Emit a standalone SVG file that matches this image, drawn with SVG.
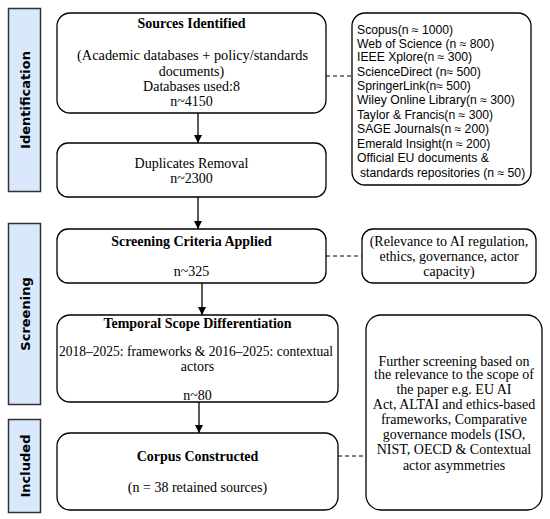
<svg xmlns="http://www.w3.org/2000/svg" width="550" height="519" viewBox="0 0 550 519">
<defs>
<marker id="ah" viewBox="0 0 10 10" refX="10" refY="5" markerWidth="8" markerHeight="8" markerUnits="userSpaceOnUse" orient="auto">
<path d="M0,0 L10,5 L0,10 z" fill="#000"/>
</marker>
</defs>
<style>
.bar{fill:#dae8fc;stroke:#333;stroke-width:1.5}
.box{fill:#fff;stroke:#000;stroke-width:1.3}
.vl{font-family:"DejaVu Sans",sans-serif;font-weight:bold;font-size:13px;fill:#000}
.t{font-family:"Liberation Serif",serif;font-size:14px;fill:#000;text-anchor:middle}
.b{font-weight:bold}
.s{font-family:"Liberation Sans",Arial,sans-serif;font-size:12.2px;fill:#000}
.ar{stroke:#000;stroke-width:1.3;fill:none;marker-end:url(#ah)}
.da{stroke:#000;stroke-width:1;fill:none;stroke-dasharray:4,3}
</style>
<rect width="550" height="519" fill="#fff"/>
<g id="phase-identification">
<rect class="bar" x="8.5" y="8.5" width="32" height="183"/>
<text class="vl" transform="translate(29.5,100) rotate(-90)" text-anchor="middle">Identification</text>
</g>
<g id="phase-screening">
<rect class="bar" x="8.5" y="223.5" width="32" height="181"/>
<text class="vl" transform="translate(29.5,314) rotate(-90)" text-anchor="middle">Screening</text>
</g>
<g id="phase-included">
<rect class="bar" x="8.5" y="419.5" width="32" height="93"/>
<text class="vl" transform="translate(29.5,466) rotate(-90)" text-anchor="middle">Included</text>
</g>
<g id="connectors">
<line class="ar" x1="198" y1="113" x2="198" y2="143"/>
<line class="ar" x1="198" y1="197" x2="198" y2="229"/>
<line class="ar" x1="202" y1="283" x2="202" y2="315"/>
<line class="ar" x1="199" y1="402" x2="199" y2="433"/>
<line class="da" x1="326" y1="76" x2="352" y2="76"/>
<line class="da" x1="326" y1="256" x2="362" y2="256"/>
<line class="da" x1="338" y1="456" x2="366" y2="456"/>
</g>
<g id="sources">
<rect class="box" x="57" y="13" width="269" height="100" rx="13"/>
<text class="t b" x="191.5" y="28">Sources Identified</text>
<text class="t" x="192.5" y="60" textLength="231" lengthAdjust="spacingAndGlyphs">(Academic databases + policy/standards</text>
<text class="t" x="191.5" y="76">documents)</text>
<text class="t" x="191.5" y="91">Databases used:8</text>
<text class="t" x="191.5" y="106">n~4150</text>
</g>
<g id="duplicates">
<rect class="box" x="57" y="143" width="269" height="54" rx="11"/>
<text class="t" x="191.5" y="167.5">Duplicates Removal</text>
<text class="t" x="191.5" y="182.5">n~2300</text>
</g>
<g id="screening-criteria">
<rect class="box" x="57" y="229" width="269" height="54" rx="11"/>
<text class="t b" x="191.5" y="245.5">Screening Criteria Applied</text>
<text class="t" x="191.5" y="276">n~325</text>
</g>
<g id="temporal">
<rect class="box" x="57" y="315" width="281" height="87" rx="13"/>
<text class="t b" x="197.5" y="327.5">Temporal Scope Differentiation</text>
<text class="t" x="196" y="356" textLength="274" lengthAdjust="spacingAndGlyphs">2018–2025: frameworks &amp; 2016–2025: contextual</text>
<text class="t" x="197.5" y="371">actors</text>
<text class="t" x="197.5" y="400">n~80</text>
</g>
<g id="corpus">
<rect class="box" x="57" y="433" width="281" height="77" rx="13"/>
<text class="t b" x="197.5" y="460.5">Corpus Constructed</text>
<text class="t" x="197.5" y="492">(n = 38 retained sources)</text>
</g>
<g id="databases">
<rect class="box" x="352" y="13" width="179" height="172" rx="13"/>
<text class="s" x="357" y="34">Scopus(n ≈ 1000)</text>
<text class="s" x="357" y="48">Web of Science (n ≈ 800)</text>
<text class="s" x="357" y="61">IEEE Xplore(n ≈ 300)</text>
<text class="s" x="357" y="75.5">ScienceDirect (n≈ 500)</text>
<text class="s" x="357" y="89.5">SpringerLink(n≈  500)</text>
<text class="s" x="357" y="103.5">Wiley Online Library(n ≈ 300)</text>
<text class="s" x="357" y="118.5">Taylor &amp; Francis(n ≈ 300)</text>
<text class="s" x="357" y="132.5">SAGE Journals(n ≈ 200)</text>
<text class="s" x="357" y="147.5">Emerald Insight(n ≈ 200)</text>
<text class="s" x="357" y="161.5">Official EU documents &amp;</text>
<text class="s" x="360" y="176.5">standards repositories (n ≈ 50)</text>
</g>
<g id="relevance">
<rect class="box" x="362" y="229" width="174" height="54" rx="11"/>
<text class="t" x="449" y="245.5">(Relevance to AI regulation,</text>
<text class="t" x="449" y="260.5">ethics, governance, actor</text>
<text class="t" x="449" y="276">capacity)</text>
</g>
<g id="further-screening">
<rect class="box" x="366" y="315" width="176" height="195" rx="15"/>
<text class="t" x="454" y="365.5">Further screening based on</text>
<text class="t" x="454" y="379">the relevance to the scope of</text>
<text class="t" x="454" y="394">the paper e.g. EU AI</text>
<text class="t" x="454" y="409">Act, ALTAI and ethics-based</text>
<text class="t" x="454" y="424">frameworks, Comparative</text>
<text class="t" x="454" y="438.5">governance models (ISO,</text>
<text class="t" x="454" y="454">NIST, OECD &amp; Contextual</text>
<text class="t" x="454" y="470">actor asymmetries</text>
</g>
</svg>
